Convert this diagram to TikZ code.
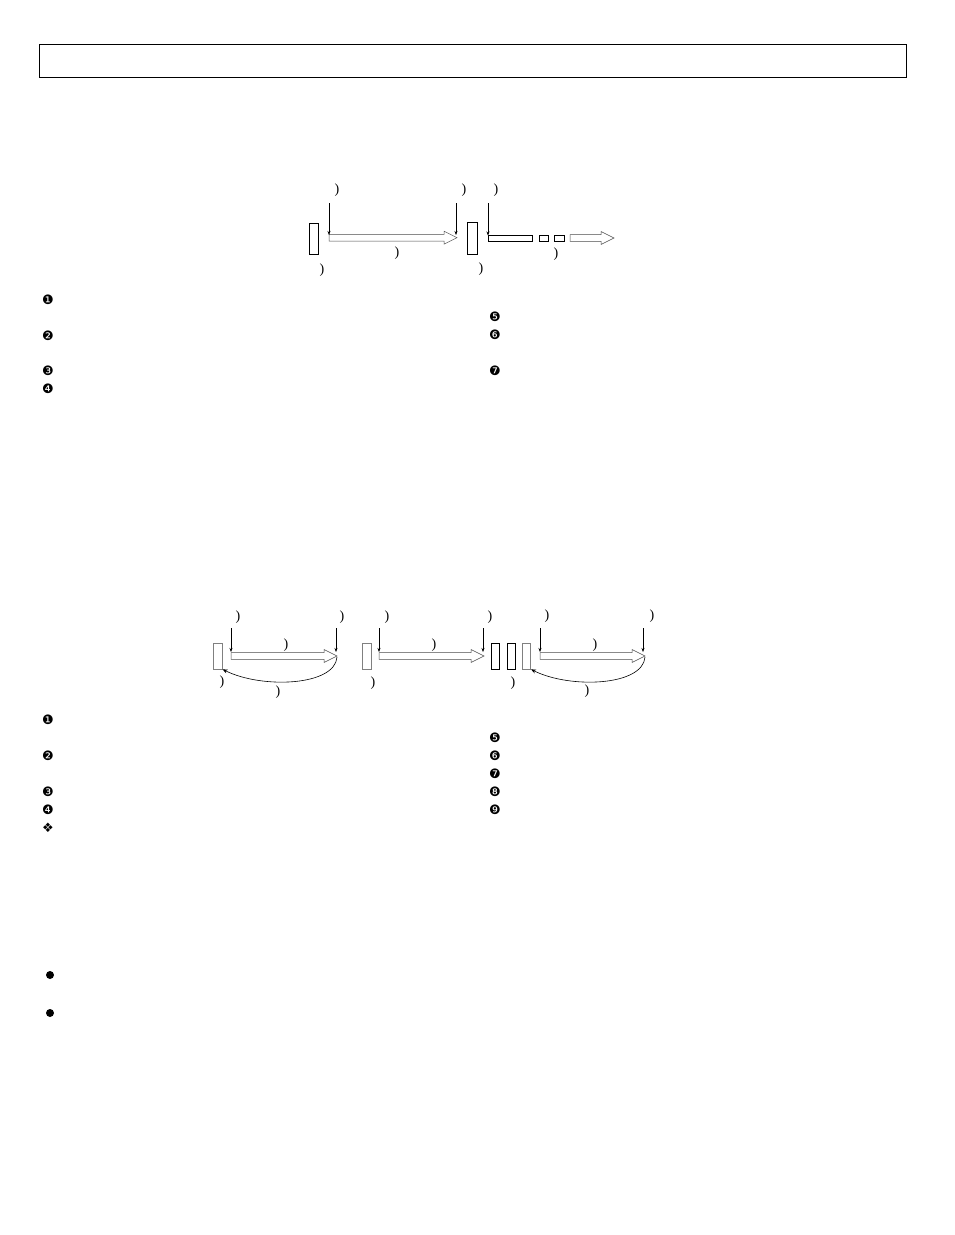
\documentclass[tikz,border=0pt]{standalone}
\usepackage{fontspec}
\setmainfont{Liberation Serif}
\newfontfamily\dejavu{DejaVu Sans}
\usetikzlibrary{arrows.meta}
\tikzset{
  box/.style={draw, line width=0.6pt, inner sep=0pt, fill=white},
  graybox/.style={box, draw=gray},
  hollow/.style={draw=black!70, line width=0.5pt, fill=white},
  down/.style={line width=0.5pt, -{Stealth[length=4pt,width=3pt]}},
  back/.style={line width=0.6pt, -{Stealth[length=5pt,width=4pt]}},
  par/.style={font=\fontsize{14}{14}\selectfont, inner sep=0pt},
  num/.style={font=\dejavu\fontsize{13}{13}\selectfont, inner sep=0pt},
}
\newcommand{\harrow}[3]{\draw[hollow] (#1,#3-3.3) -- (#2-13,#3-3.3) -- (#2-13,#3-6.5) -- (#2,#3) -- (#2-13,#3+6.5) -- (#2-13,#3+3.3) -- (#1,#3+3.3) -- cycle;}
\begin{document}
\begin{tikzpicture}[x=1pt,y=-1pt]
\useasboundingbox (0,0) rectangle (954,1235);
\node[draw, line width=0.8pt, minimum width=867pt, minimum height=33pt, inner sep=0pt] (frame) at (472.5,60.5) {};

% ---------- diagram 1 ----------
\node[box, minimum width=9pt, minimum height=31pt] (r1) at (313.5,238.5) {};
\node[box, minimum width=10pt, minimum height=32pt] (r2) at (472,238) {};
\node[box, minimum width=44pt, minimum height=6pt] (l1) at (510,238) {};
\node[box, minimum width=9pt, minimum height=6pt] (s1) at (543.5,238) {};
\node[box, minimum width=10pt, minimum height=6pt] (s2) at (559,238) {};
\harrow{329}{457}{237.7}
\harrow{570}{614}{238}
\coordinate (t1) at (329,203); \coordinate (b1) at (329,235);
\coordinate (t2) at (456,203); \coordinate (b2) at (456,235);
\coordinate (t3) at (488,203); \coordinate (b3) at (488,235.5);
\draw[down] (t1) -- (b1);
\draw[down] (t2) -- (b2);
\draw[down] (t3) -- (b3);
\node[par] (p1) at (337,190) {)};
\node[par] (p2) at (464,190) {)};
\node[par] (p3) at (496,190) {)};
\node[par] (p4) at (397,253) {)};
\node[par] (p5) at (322,270) {)};
\node[par] (p6) at (556,254) {)};
\node[par] (p7) at (481,269) {)};

\node[num] (a1) at (48,300) {❶};
\node[num] (a2) at (48,336) {❷};
\node[num] (a3) at (48,371) {❸};
\node[num] (a4) at (48,389) {❹};
\node[num] (a5) at (495,317) {❺};
\node[num] (a6) at (495,335) {❻};
\node[num] (a7) at (495,371) {❼};

% ---------- diagram 2 ----------
\node[graybox, minimum width=8.5pt, minimum height=26pt] (A) at (218,656) {};
\node[graybox, minimum width=9pt, minimum height=26pt] (B) at (366.5,656) {};
\node[box, minimum width=8pt, minimum height=26pt] (C) at (495,656) {};
\node[box, minimum width=8pt, minimum height=26pt] (D) at (511,656) {};
\node[graybox, minimum width=8pt, minimum height=26pt] (E) at (526.7,656) {};
\harrow{231}{337}{656}
\harrow{379}{484}{656}
\harrow{540}{645}{656}
\coordinate (u1) at (231,628); \coordinate (v1) at (231,652);
\coordinate (u2) at (336,628); \coordinate (v2) at (336,652);
\coordinate (u3) at (379,628); \coordinate (v3) at (379,652);
\coordinate (u4) at (483,628); \coordinate (v4) at (483,652);
\coordinate (u5) at (540,628); \coordinate (v5) at (540,652);
\coordinate (u6) at (643,628); \coordinate (v6) at (643,652);
\foreach \i in {1,...,6} \draw[down] (u\i) -- (v\i);
\coordinate (c1) at (337,657);
\coordinate (c2) at (645,657);
\draw[back] (c1) .. controls (335,686) and (262,689) .. (A.south east);
\draw[back] (c2) .. controls (643,686) and (570,689) .. (E.south east);
\node[par] (q1) at (238,617) {)};
\node[par] (q2) at (342,617) {)};
\node[par] (q3) at (286,645) {)};
\node[par] (q4) at (222,682) {)};
\node[par] (q5) at (278,692) {)};
\node[par] (q6) at (387,617) {)};
\node[par] (q7) at (490,617) {)};
\node[par] (q8) at (434,645) {)};
\node[par] (q9) at (373,683) {)};
\node[par] (q10) at (547,616) {)};
\node[par] (q11) at (652,616) {)};
\node[par] (q12) at (595,645) {)};
\node[par] (q13) at (513,683) {)};
\node[par] (q14) at (587,691) {)};

\node[num] (n1) at (48,720) {❶};
\node[num] (n2) at (48,756) {❷};
\node[num] (n3) at (48,792) {❸};
\node[num] (n4) at (48,810) {❹};
\node[num] (n10) at (48,828) {❖};
\node[num] (n5) at (495,738) {❺};
\node[num] (n6) at (495,756) {❻};
\node[num] (n7) at (495,774) {❼};
\node[num] (n8) at (495,792) {❽};
\node[num] (n9) at (495,810) {❾};

% ---------- bullets ----------
\node[circle, fill=black, inner sep=0pt, minimum size=8pt] (d1) at (50,975) {};
\node[circle, fill=black, inner sep=0pt, minimum size=8pt] (d2) at (50,1013) {};
\end{tikzpicture}
\end{document}
